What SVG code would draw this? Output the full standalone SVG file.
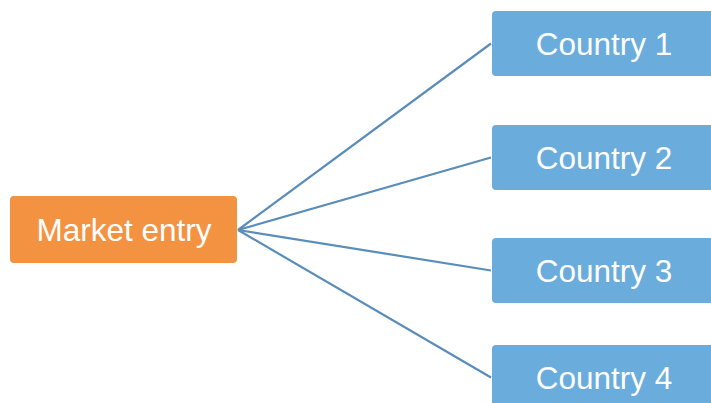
<svg xmlns="http://www.w3.org/2000/svg" width="711" height="403" viewBox="0 0 711 403">
  <style>
    .root { fill: #f39341; }
    .leaf { fill: #6aacdc; }
    .label { font-family: "Liberation Sans", Arial, sans-serif; font-size: 31.5px; fill: #ffffff; text-anchor: middle; }
    .edge { stroke: #5a8db9; stroke-width: 2.2; fill: none; }
  </style>
  <rect width="711" height="403" fill="#ffffff"/>
  <g id="connectors">
    <line class="edge" x1="238" y1="230" x2="491" y2="43.5"/>
    <line class="edge" x1="238" y1="230" x2="491" y2="157.5"/>
    <line class="edge" x1="238" y1="230" x2="491" y2="270.5"/>
    <line class="edge" x1="238" y1="230" x2="491" y2="377.5"/>
  </g>
  <g id="market-entry">
    <rect class="root" x="10" y="196" width="227" height="67" rx="4"/>
    <text class="label" x="124" y="241">Market entry</text>
  </g>
  <g id="country-1">
    <rect class="leaf" x="492" y="11" width="224" height="65" rx="4"/>
    <text class="label" x="604" y="55">Country 1</text>
  </g>
  <g id="country-2">
    <rect class="leaf" x="492" y="125" width="224" height="65" rx="4"/>
    <text class="label" x="604" y="169">Country 2</text>
  </g>
  <g id="country-3">
    <rect class="leaf" x="492" y="238" width="224" height="65" rx="4"/>
    <text class="label" x="604" y="282">Country 3</text>
  </g>
  <g id="country-4">
    <rect class="leaf" x="492" y="345" width="224" height="65" rx="4"/>
    <text class="label" x="604" y="389">Country 4</text>
  </g>
</svg>
